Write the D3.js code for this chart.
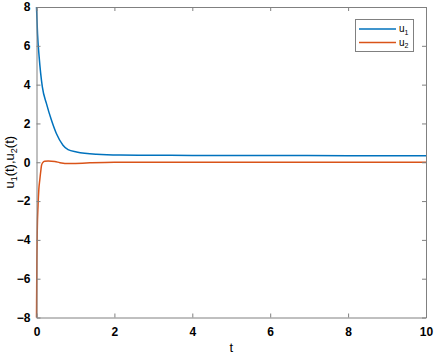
<!DOCTYPE html>
<html><head><meta charset="utf-8">
<script src="https://cdn.jsdelivr.net/npm/d3@7/dist/d3.min.js"></script>
<style>body{margin:0;background:#fff}svg{display:block}text{font-family:"Liberation Sans",Arial,sans-serif}</style>
</head><body>
<script>
const xTicks = [0, 2, 4, 6, 8, 10];
const yTicks = [-8, -6, -4, -2, 0, 2, 4, 6, 8];
const seriesNames = ["u1", "u2"];
const u1T = [0, 0.026, 0.068, 0.15, 0.256, 0.385, 0.51, 0.68, 0.81, 1.03, 1.54, 2.14, 3, 4, 6, 8, 10];
const u1V = [8, 6.63, 5.43, 3.88, 3.02, 2.16, 1.48, 0.88, 0.65, 0.53, 0.41, 0.37, 0.36, 0.35, 0.35, 0.34, 0.34];
const u2T = [0, 0.005, 0.01, 0.02, 0.04, 0.06, 0.085, 0.11, 0.13, 0.16, 0.21, 0.3, 0.47, 0.6, 0.85, 1.0, 1.37, 2, 4, 10];
const u2V = [-8, -6.5, -5, -3.5, -2.2, -1.4, -0.9, -0.45, -0.15, -0.02, 0.05, 0.06, 0.04, -0.02, -0.07, -0.06, -0.03, 0, 0, 0];
const colors = ["#0072BD", "#D95319"];

const W = 434, H = 356;
const L = 36.5, R = 426, T = 7, B = 317.5;
const svg = d3.select("body").append("svg").attr("width", W).attr("height", H);
const x = d3.scaleLinear().domain([0, 10]).range([L, R]);
const y = d3.scaleLinear().domain([-8, 8]).range([B, T]);

const line = d3.line().x(d => x(d[0])).y(d => y(d[1])).curve(d3.curveMonotoneX);
const data = [u1T.map((t, i) => [t, u1V[i]]), u2T.map((t, i) => [t, u2V[i]])];
data.forEach((d, i) => {
  svg.append("path").attr("d", line(d)).attr("fill", "none")
    .attr("stroke", colors[i]).attr("stroke-width", 1.5);
});

function styleAxis(g) {
  g.selectAll(".domain").attr("stroke", "#808080");
  g.selectAll(".tick line").attr("stroke", "#808080");
  g.selectAll("text").attr("fill", "#000").attr("font-size", 12).attr("font-weight", "bold")
    .style("font-family", '"Liberation Sans", Arial, sans-serif');
}
const fmt = d3.format("d");
svg.append("g").attr("transform", `translate(0,${B})`)
  .call(d3.axisBottom(x).tickValues(xTicks).tickFormat(fmt).tickSizeInner(-4).tickSizeOuter(0).tickPadding(10)).call(styleAxis);
svg.append("g").attr("transform", `translate(0,${T})`)
  .call(d3.axisTop(x).tickValues(xTicks).tickFormat("").tickSizeInner(-4).tickSizeOuter(0)).call(styleAxis);
svg.append("g").attr("transform", `translate(${L},0)`)
  .call(d3.axisLeft(y).tickValues(yTicks).tickFormat(fmt).tickSizeInner(-4).tickSizeOuter(0).tickPadding(6)).call(styleAxis);
svg.append("g").attr("transform", `translate(${R},0)`)
  .call(d3.axisRight(y).tickValues(yTicks).tickFormat("").tickSizeInner(-4).tickSizeOuter(0)).call(styleAxis);

svg.append("text").attr("x", (L + R) / 2).attr("y", 352).attr("text-anchor", "middle")
  .attr("font-size", 13).attr("fill", "#000").text("t");
const yl = svg.append("text").attr("transform", `translate(14,${(T + B) / 2}) rotate(-90)`)
  .attr("text-anchor", "middle").attr("font-size", 13).attr("fill", "#000");
yl.append("tspan").text("u");
yl.append("tspan").attr("font-size", 9).attr("dy", 3).text("1");
yl.append("tspan").attr("dy", -3).text("(t),u");
yl.append("tspan").attr("font-size", 9).attr("dy", 3).text("2");
yl.append("tspan").attr("dy", -3).text("(t)");

// legend
const lg = svg.append("g");
lg.append("rect").attr("x", 355.5).attr("y", 19.5).attr("width", 58).attr("height", 32)
  .attr("fill", "#fff").attr("stroke", "#808080");
seriesNames.forEach((n, i) => {
  const yy = 29 + i * 13.5;
  lg.append("line").attr("x1", 359).attr("x2", 396).attr("y1", yy).attr("y2", yy)
    .attr("stroke", colors[i]).attr("stroke-width", 1.5);
  const t = lg.append("text").attr("x", 399).attr("y", yy + 3).attr("font-size", 10).attr("fill", "#000");
  t.append("tspan").text(n[0]);
  t.append("tspan").attr("font-size", 7).attr("dy", 2.5).text(n.slice(1));
});
</script>
</body></html>
